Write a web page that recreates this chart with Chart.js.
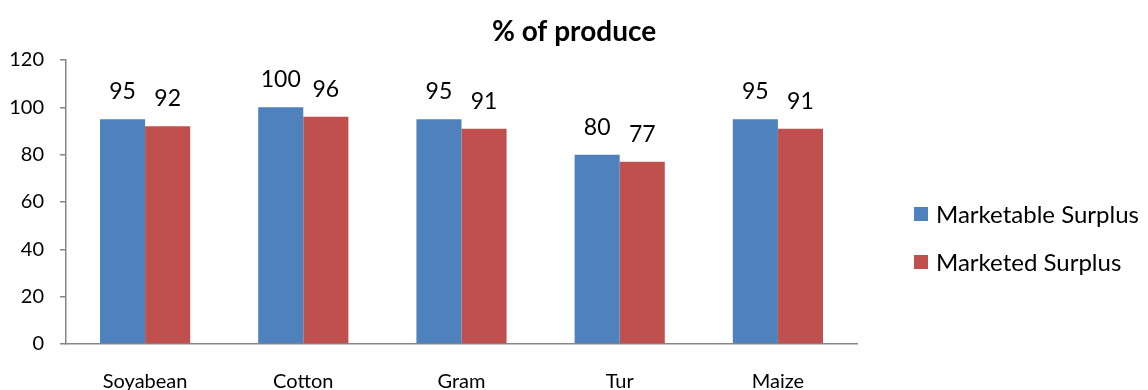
<!DOCTYPE html>
<html>
<head>
<meta charset="utf-8">
<script src="https://cdn.jsdelivr.net/npm/chart.js@4/dist/chart.umd.min.js"></script>
<style>
  html, body { margin: 0; padding: 0; background: #ffffff; }
  #wrap { width: 1148px; height: 390px; position: relative; }
</style>
</head>
<body>
<div id="wrap"><canvas id="chart" width="1148" height="390"></canvas></div>
<script>
// Crops and their share of produce (%)
const crops = ['Soyabean', 'Cotton', 'Gram', 'Tur', 'Maize'];
const marketableSurplus = [95, 100, 95, 80, 95];
const marketedSurplus = [92, 96, 91, 77, 91];
const yTicks = [0, 20, 40, 60, 80, 100, 120];
const chartTitle = '% of produce';

const FONT = 'Lato, "Open Sans", sans-serif';
const AXIS_GREY = '#868686';

// Title centred across the whole canvas
const canvasTitle = {
  id: 'canvasTitle',
  afterDraw(chart) {
    const ctx = chart.ctx;
    ctx.save();
    ctx.font = 'bold 28px ' + FONT;
    ctx.fillStyle = '#000000';
    ctx.textAlign = 'center';
    ctx.textBaseline = 'middle';
    ctx.fillText(chartTitle, chart.width / 2, 32);
    ctx.restore();
  }
};

// Value labels above each bar
const barValueLabels = {
  id: 'barValueLabels',
  afterDatasetsDraw(chart) {
    const ctx = chart.ctx;
    ctx.save();
    ctx.font = '23px ' + FONT;
    ctx.fillStyle = '#000000';
    ctx.textAlign = 'center';
    ctx.textBaseline = 'bottom';
    chart.data.datasets.forEach((ds, i) => {
      chart.getDatasetMeta(i).data.forEach((bar, j) => {
        ctx.fillText(String(ds.data[j]), bar.x, bar.y - 16);
      });
    });
    ctx.restore();
  }
};

// Legend on the right, one square swatch per series
const sideLegend = {
  id: 'sideLegend',
  afterDraw(chart) {
    const ctx = chart.ctx;
    ctx.save();
    ctx.font = '24px ' + FONT;
    ctx.textBaseline = 'middle';
    ctx.textAlign = 'left';
    const x0 = 914, rowY = [214, 262], box = 14;
    chart.data.datasets.forEach((ds, i) => {
      ctx.fillStyle = ds.backgroundColor;
      ctx.fillRect(x0, rowY[i] - box / 2, box, box);
      ctx.fillStyle = '#000000';
      ctx.fillText(ds.label, x0 + 22, rowY[i] + 1);
    });
    ctx.restore();
  }
};

new Chart(document.getElementById('chart'), {
  type: 'bar',
  data: {
    labels: crops,
    datasets: [
      { label: 'Marketable Surplus', data: marketableSurplus, backgroundColor: '#4F81BD' },
      { label: 'Marketed Surplus', data: marketedSurplus, backgroundColor: '#C0504D' }
    ]
  },
  options: {
    responsive: false,
    animation: false,
    devicePixelRatio: 1,
    layout: { padding: { top: 60, right: 291, left: 0, bottom: 0 } },
    datasets: { bar: { categoryPercentage: 0.57, barPercentage: 1.0 } },
    plugins: {
      legend: { display: false },
      tooltip: { enabled: false },
      title: { display: false }
    },
    scales: {
      x: {
        grid: { drawOnChartArea: false, drawTicks: false },
        border: { display: true, color: AXIS_GREY, width: 1.5 },
        ticks: { color: '#000000', font: { family: FONT, size: 20 }, padding: 26 },
        afterFit(scale) { scale.height = 46; }
      },
      y: {
        min: 0,
        max: 120,
        afterBuildTicks(scale) { scale.ticks = yTicks.map(v => ({ value: v })); },
        grid: { drawOnChartArea: false, drawTicks: true, tickLength: 6, color: AXIS_GREY, lineWidth: 1.5 },
        border: { display: true, color: AXIS_GREY, width: 1.5 },
        ticks: { color: '#000000', font: { family: FONT, size: 20 }, padding: 16 },
        afterFit(scale) { scale.width = 66; }
      }
    }
  },
  plugins: [canvasTitle, barValueLabels, sideLegend]
});
</script>
</body>
</html>
